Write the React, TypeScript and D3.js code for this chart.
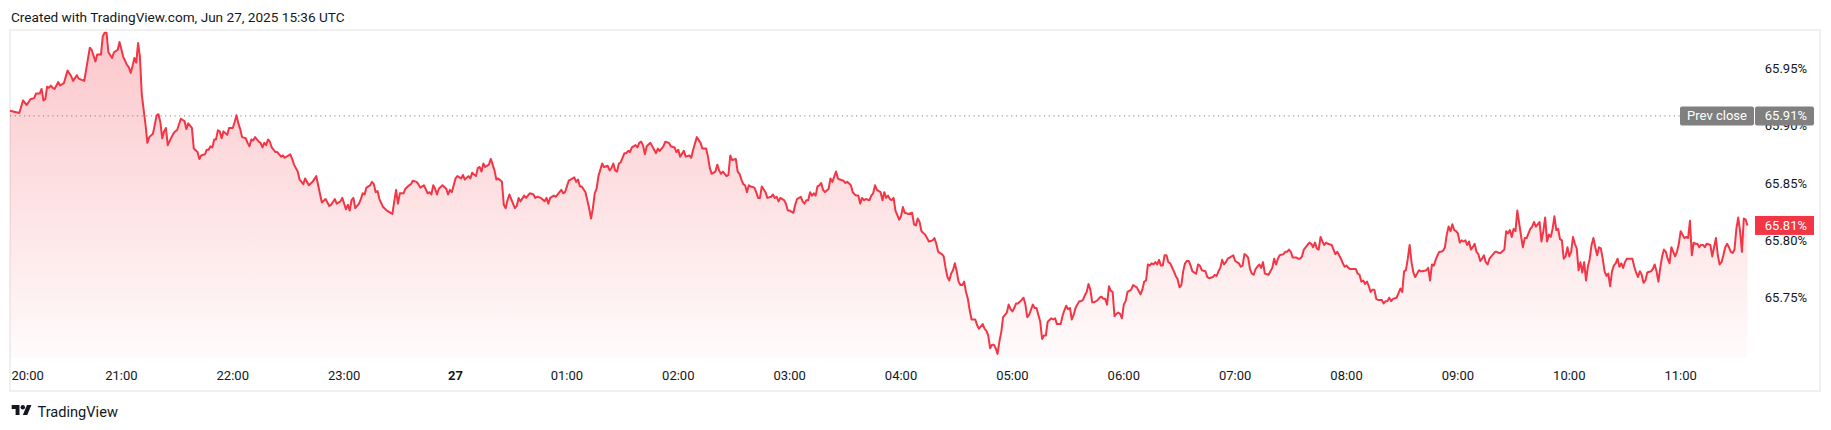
import * as d3 from "d3";

// wall-clock New York time, stored as UTC so labels don't depend on the browser zone
const sessionStart = Date.UTC(2025, 5, 26, 20, 0);
const sessionEnd = Date.UTC(2025, 5, 27, 11, 36);

// [minutes after 20:00, value %]
const eveningBars: [number, number][] = [
  [0, 65.913], [5, 65.911], [7, 65.922], [9, 65.918], [11, 65.923], [13, 65.924], [14, 65.928], [16, 65.928],
  [17, 65.932], [18, 65.922], [19, 65.923], [20, 65.934], [21, 65.933], [22, 65.935], [23, 65.933], [24, 65.932],
  [26, 65.938], [27, 65.935], [29, 65.937], [31, 65.948], [33, 65.943], [34, 65.939], [36, 65.944], [37, 65.941],
  [40, 65.939], [43, 65.968], [44, 65.966], [46, 65.956], [47, 65.962], [49, 65.962], [50, 65.978], [51, 65.981],
  [52, 65.981], [53, 65.964], [55, 65.959], [56, 65.964], [58, 65.966], [59, 65.973], [61, 65.96], [63, 65.953],
  [64, 65.951], [65, 65.946], [66, 65.952], [67, 65.959], [68, 65.955], [69, 65.972], [70, 65.96], [71, 65.927],
  [73, 65.901], [74, 65.885], [75, 65.89], [77, 65.893], [78, 65.901], [79, 65.909], [80, 65.91], [81, 65.903],
  [82, 65.889], [83, 65.895], [84, 65.898], [85, 65.883], [87, 65.89], [88, 65.893], [89, 65.895], [90, 65.896],
  [92, 65.906], [94, 65.904], [95, 65.897], [96, 65.902], [98, 65.898], [99, 65.88], [101, 65.877], [102, 65.871],
  [103, 65.874], [105, 65.875], [106, 65.879], [107, 65.879], [108, 65.882], [109, 65.881], [110, 65.888], [111, 65.888],
  [112, 65.896], [113, 65.895], [114, 65.889], [115, 65.895], [117, 65.892], [118, 65.898], [120, 65.898], [121, 65.903],
  [122, 65.909], [123, 65.902], [124, 65.897], [125, 65.89], [127, 65.889], [128, 65.885], [129, 65.882], [130, 65.888],
  [131, 65.887], [132, 65.89], [134, 65.886], [135, 65.885], [136, 65.881], [137, 65.885], [138, 65.883], [139, 65.888],
  [140, 65.886], [141, 65.881], [143, 65.877], [144, 65.877], [146, 65.873], [147, 65.874], [148, 65.872], [151, 65.875],
  [152, 65.871], [153, 65.866], [155, 65.86], [156, 65.853], [158, 65.849], [159, 65.854], [161, 65.848], [163, 65.851],
  [165, 65.856], [166, 65.848], [168, 65.833], [170, 65.836], [172, 65.83], [173, 65.831], [175, 65.836], [176, 65.832],
  [178, 65.834], [179, 65.837], [181, 65.827], [182, 65.831], [183, 65.826], [184, 65.835], [185, 65.837], [186, 65.828],
  [188, 65.832], [189, 65.836], [190, 65.841], [191, 65.84], [192, 65.846], [194, 65.848], [195, 65.851], [196, 65.849],
  [197, 65.842], [198, 65.843], [199, 65.836], [201, 65.829], [203, 65.826], [205, 65.824], [206, 65.823], [207, 65.834],
  [208, 65.844], [209, 65.832], [210, 65.841], [212, 65.841], [213, 65.845], [215, 65.848], [216, 65.849], [217, 65.852],
  [219, 65.851], [220, 65.849], [221, 65.846], [223, 65.848], [225, 65.841], [226, 65.842], [227, 65.84], [228, 65.848],
  [229, 65.845], [230, 65.84], [231, 65.845], [233, 65.848], [235, 65.845], [236, 65.84], [237, 65.844], [238, 65.842],
];

const nightBars: [number, number][] = [
  [240, 65.854], [241, 65.856], [243, 65.854], [244, 65.857], [245, 65.853], [247, 65.856], [248, 65.854], [249, 65.859],
  [251, 65.856], [252, 65.863], [253, 65.864], [254, 65.86], [255, 65.867], [256, 65.864], [258, 65.866], [259, 65.871],
  [261, 65.861], [262, 65.853], [263, 65.854], [265, 65.851], [266, 65.831], [267, 65.828], [268, 65.835], [269, 65.84],
  [270, 65.836], [272, 65.828], [273, 65.83], [274, 65.837], [275, 65.834], [277, 65.839], [278, 65.837], [280, 65.841],
  [282, 65.84], [283, 65.837], [284, 65.838], [286, 65.837], [288, 65.834], [289, 65.837], [290, 65.832], [291, 65.837],
  [293, 65.839], [294, 65.838], [296, 65.842], [297, 65.844], [298, 65.841], [299, 65.842], [301, 65.852], [302, 65.853],
  [304, 65.855], [305, 65.851], [306, 65.853], [307, 65.847], [308, 65.847], [310, 65.842], [312, 65.828], [313, 65.819],
  [314, 65.828], [315, 65.841], [316, 65.845], [317, 65.856], [319, 65.867], [320, 65.864], [322, 65.865], [323, 65.861],
  [324, 65.863], [325, 65.867], [326, 65.861], [327, 65.86], [328, 65.867], [329, 65.868], [331, 65.876], [332, 65.876],
  [333, 65.878], [334, 65.877], [335, 65.881], [337, 65.883], [338, 65.881], [339, 65.885], [340, 65.886], [341, 65.883],
  [342, 65.875], [343, 65.882], [345, 65.885], [347, 65.879], [348, 65.876], [349, 65.88], [350, 65.878], [352, 65.882],
  [353, 65.886], [355, 65.885], [356, 65.882], [358, 65.881], [359, 65.877], [360, 65.879], [361, 65.873], [363, 65.878],
  [364, 65.873], [366, 65.874], [367, 65.872], [368, 65.879], [370, 65.89], [372, 65.885], [373, 65.88], [375, 65.88],
  [376, 65.873], [377, 65.863], [378, 65.858], [380, 65.86], [381, 65.866], [382, 65.861], [383, 65.858], [384, 65.86],
  [385, 65.858], [386, 65.856], [387, 65.857], [388, 65.874], [389, 65.87], [391, 65.871], [392, 65.86], [393, 65.858],
  [394, 65.853], [395, 65.849], [396, 65.848], [397, 65.842], [398, 65.848], [399, 65.847], [401, 65.846], [402, 65.842],
  [403, 65.837], [404, 65.837], [405, 65.847], [407, 65.842], [408, 65.837], [410, 65.838], [411, 65.84], [412, 65.837],
  [413, 65.838], [414, 65.834], [415, 65.837], [417, 65.835], [418, 65.832], [419, 65.826], [420, 65.826], [422, 65.824],
  [423, 65.831], [424, 65.836], [426, 65.838], [427, 65.834], [428, 65.832], [429, 65.835], [430, 65.835], [431, 65.842],
  [432, 65.839], [433, 65.841], [434, 65.839], [435, 65.847], [436, 65.848], [437, 65.85], [438, 65.844], [439, 65.842],
  [441, 65.845], [442, 65.854], [443, 65.851], [445, 65.86], [446, 65.854], [447, 65.853], [449, 65.852], [450, 65.85],
  [451, 65.851], [453, 65.848], [454, 65.842], [455, 65.84], [456, 65.839], [457, 65.839], [458, 65.832], [459, 65.837],
  [460, 65.835], [461, 65.836], [463, 65.835], [464, 65.839], [465, 65.841], [466, 65.848], [467, 65.844], [468, 65.843],
  [469, 65.842], [470, 65.835], [471, 65.842], [472, 65.837], [473, 65.839], [474, 65.836], [475, 65.835], [476, 65.837],
  [477, 65.826], [479, 65.818],
];

const earlyBars: [number, number][] = [
  [480, 65.821], [481, 65.829], [482, 65.824], [484, 65.823], [486, 65.824], [487, 65.814], [488, 65.813], [489, 65.819],
  [490, 65.816], [491, 65.808], [493, 65.805], [494, 65.802], [495, 65.799], [497, 65.8], [498, 65.802], [499, 65.797],
  [500, 65.79], [502, 65.788], [503, 65.786], [504, 65.776], [505, 65.768], [506, 65.765], [507, 65.771], [508, 65.774],
  [509, 65.78], [510, 65.773], [511, 65.764], [512, 65.761], [513, 65.761], [514, 65.764], [515, 65.755], [516, 65.749],
  [517, 65.739], [518, 65.731], [519, 65.731], [520, 65.731], [521, 65.726], [522, 65.723], [523, 65.725], [524, 65.727],
  [525, 65.723], [526, 65.721], [527, 65.717], [528, 65.706], [529, 65.709], [530, 65.709], [531, 65.706], [532, 65.701],
  [533, 65.712], [534, 65.72], [535, 65.733], [536, 65.735], [537, 65.737], [538, 65.744], [539, 65.74], [540, 65.738],
  [541, 65.741], [542, 65.745], [543, 65.745], [545, 65.748], [546, 65.75], [547, 65.744], [548, 65.733], [549, 65.735],
  [551, 65.744], [552, 65.741], [553, 65.741], [554, 65.735], [555, 65.729], [556, 65.714], [557, 65.717], [558, 65.717],
  [559, 65.729], [561, 65.732], [562, 65.731], [563, 65.732], [564, 65.727], [566, 65.727], [567, 65.734], [568, 65.739],
  [569, 65.743], [570, 65.74], [571, 65.741], [572, 65.731], [573, 65.735], [574, 65.741], [576, 65.747], [577, 65.747],
  [578, 65.748], [579, 65.752], [580, 65.755], [581, 65.762], [582, 65.757], [583, 65.746], [584, 65.746], [586, 65.748],
  [587, 65.75], [588, 65.751], [589, 65.749], [590, 65.749], [591, 65.744], [592, 65.76], [593, 65.756], [594, 65.755],
  [595, 65.734], [596, 65.736], [597, 65.737], [598, 65.736], [599, 65.732], [600, 65.744], [601, 65.747], [602, 65.755],
  [603, 65.756], [604, 65.757], [605, 65.761], [606, 65.76], [607, 65.759], [609, 65.753], [610, 65.757], [611, 65.764],
  [612, 65.765], [613, 65.779], [614, 65.778], [615, 65.78], [616, 65.779], [617, 65.781], [618, 65.779], [619, 65.783],
  [620, 65.778], [621, 65.778], [622, 65.787], [623, 65.787], [624, 65.781], [625, 65.78], [627, 65.773], [628, 65.769],
  [629, 65.766], [630, 65.759], [631, 65.761], [632, 65.773], [633, 65.78], [634, 65.782], [635, 65.782], [636, 65.778],
  [637, 65.773], [639, 65.771], [640, 65.779], [641, 65.778], [642, 65.774], [644, 65.773], [645, 65.768], [646, 65.767],
  [648, 65.768], [649, 65.77], [650, 65.769], [651, 65.773], [652, 65.776], [653, 65.783], [654, 65.779], [655, 65.781],
  [656, 65.784], [657, 65.785], [659, 65.787], [660, 65.782], [661, 65.781], [662, 65.78], [663, 65.777], [664, 65.778],
  [665, 65.788], [666, 65.787], [667, 65.785], [668, 65.775], [669, 65.771], [670, 65.77], [671, 65.775], [672, 65.777],
  [673, 65.779], [674, 65.776], [675, 65.781], [676, 65.771], [678, 65.77], [679, 65.773], [680, 65.776], [681, 65.784],
  [682, 65.779], [683, 65.784], [684, 65.787], [686, 65.788], [687, 65.79], [688, 65.79], [689, 65.792], [690, 65.79],
  [691, 65.785], [693, 65.785], [694, 65.784], [695, 65.784], [696, 65.786], [697, 65.792], [699, 65.796], [700, 65.798],
  [701, 65.797], [702, 65.794], [703, 65.798], [704, 65.793], [705, 65.792], [706, 65.803], [707, 65.799], [708, 65.796],
  [709, 65.798], [710, 65.797], [712, 65.796], [713, 65.792], [714, 65.788], [715, 65.79], [717, 65.784], [718, 65.78],
  [719, 65.777],
];

const morningBars: [number, number][] = [
  [720, 65.778], [721, 65.776], [722, 65.775], [723, 65.775], [725, 65.775], [726, 65.771], [727, 65.77], [728, 65.764],
  [729, 65.765], [730, 65.762], [731, 65.764], [732, 65.76], [733, 65.755], [734, 65.757], [735, 65.757], [736, 65.749],
  [737, 65.748], [739, 65.748], [740, 65.745], [741, 65.747], [742, 65.747], [743, 65.75], [744, 65.747], [745, 65.749],
  [747, 65.75], [748, 65.754], [749, 65.758], [750, 65.755], [751, 65.773], [752, 65.774], [753, 65.784], [754, 65.796],
  [755, 65.781], [756, 65.772], [757, 65.768], [758, 65.771], [759, 65.774], [760, 65.773], [761, 65.773], [763, 65.774],
  [764, 65.776], [765, 65.765], [766, 65.779], [767, 65.778], [768, 65.783], [769, 65.787], [770, 65.79], [771, 65.79],
  [772, 65.791], [773, 65.794], [774, 65.805], [775, 65.812], [776, 65.808], [777, 65.814], [778, 65.809], [779, 65.808],
  [780, 65.806], [781, 65.798], [782, 65.8], [783, 65.799], [784, 65.8], [785, 65.796], [786, 65.799], [787, 65.792],
  [788, 65.794], [789, 65.797], [790, 65.79], [791, 65.788], [792, 65.782], [793, 65.784], [794, 65.787], [795, 65.781],
  [796, 65.779], [797, 65.784], [799, 65.788], [800, 65.79], [801, 65.79], [802, 65.789], [803, 65.789], [805, 65.792],
  [806, 65.808], [807, 65.806], [808, 65.809], [809, 65.803], [810, 65.81], [811, 65.808], [812, 65.826], [813, 65.815],
  [814, 65.804], [815, 65.794], [816, 65.802], [817, 65.802], [818, 65.806], [819, 65.81], [820, 65.812], [821, 65.816],
  [822, 65.812], [823, 65.814], [824, 65.816], [825, 65.799], [826, 65.808], [827, 65.82], [828, 65.799], [829, 65.805],
  [830, 65.803], [831, 65.81], [832, 65.821], [833, 65.809], [834, 65.81], [835, 65.801], [836, 65.8], [837, 65.784],
  [838, 65.786], [839, 65.794], [840, 65.786], [841, 65.79], [842, 65.803], [843, 65.797], [844, 65.793], [845, 65.774],
  [846, 65.781], [847, 65.772], [848, 65.781], [849, 65.765], [850, 65.777], [851, 65.784], [852, 65.796], [853, 65.802],
  [854, 65.794], [855, 65.787], [856, 65.794], [857, 65.793], [858, 65.784], [859, 65.773], [860, 65.769], [861, 65.771],
  [862, 65.76], [863, 65.773], [864, 65.778], [865, 65.78], [866, 65.784], [867, 65.777], [868, 65.78], [869, 65.776],
  [870, 65.781], [871, 65.784], [872, 65.784], [874, 65.784], [875, 65.777], [876, 65.772], [877, 65.768], [878, 65.773],
  [879, 65.77], [880, 65.763], [881, 65.765], [882, 65.772], [884, 65.773], [885, 65.775], [886, 65.779], [887, 65.773],
  [888, 65.764], [889, 65.776], [890, 65.786], [891, 65.792], [892, 65.79], [893, 65.784], [894, 65.78], [895, 65.794],
  [896, 65.79], [897, 65.786], [898, 65.79], [899, 65.797], [900, 65.808], [901, 65.805], [902, 65.802], [903, 65.803],
  [904, 65.802], [905, 65.817], [906, 65.787], [907, 65.798], [908, 65.797], [909, 65.797], [910, 65.794], [911, 65.796],
  [912, 65.796], [913, 65.794], [914, 65.797], [916, 65.796], [917, 65.786], [918, 65.794], [919, 65.802], [920, 65.787],
  [921, 65.779], [922, 65.781], [923, 65.787], [924, 65.794], [925, 65.797], [926, 65.794], [927, 65.79], [928, 65.789],
  [929, 65.792], [930, 65.81], [931, 65.82], [932, 65.808], [933, 65.79], [934, 65.819], [935, 65.818], [936, 65.813],
];

const priceTicks = [65.75, 65.8, 65.85, 65.9, 65.95];
const prevClose = 65.9085;
const prevCloseLabel = "65.91%";
const lastLabel = "65.81%";
const headerText = "Created with TradingView.com, Jun 27, 2025 15:36 UTC";

const W = 1831;
const H = 430;
const FONT = "Roboto, 'Liberation Sans', sans-serif";
const TEXT = "#131722";
const RED = "#F23645";
const GREY = "#808080";

type Bar = { date: Date; value: number };

const bars: Bar[] = [...eveningBars, ...nightBars, ...earlyBars, ...morningBars].map(([m, v]) => ({
  date: new Date(sessionStart + m * 60000),
  value: v,
}));

export default function App() {
  const paneLeft = 10;
  const paneBottom = 358;
  const axisX = 1807;

  const x = d3.scaleUtc().domain([new Date(sessionStart), new Date(sessionEnd)]).range([paneLeft, 1747.5]);
  const y = d3.scaleLinear().domain([65.75, 65.95]).range([297.7, 68.3]);

  const line = d3
    .line<Bar>()
    .x((d) => x(d.date))
    .y((d) => y(d.value));
  const area = d3
    .area<Bar>()
    .x((d) => x(d.date))
    .y0(paneBottom)
    .y1((d) => y(d.value));

  const topY = y(d3.max(bars, (d) => d.value) || 65.95);
  const hourTicks = x.ticks(d3.utcHour.every(1)!);
  const fmt = d3.utcFormat("%H:%M");
  const last = bars[bars.length - 1];
  const prevY = y(prevClose);
  const lastY = y(last.value);

  return (
    <svg
      width={W}
      height={H}
      style={{ position: "absolute", left: 0, top: 0, background: "#fff", fontFamily: FONT }}
    >
      <defs>
        <linearGradient id="fade" gradientUnits="userSpaceOnUse" x1={0} x2={0} y1={topY} y2={paneBottom}>
          <stop offset="0%" stopColor={RED} stopOpacity={0.28} />
          <stop offset="100%" stopColor={RED} stopOpacity={0.02} />
        </linearGradient>
      </defs>

      <text x={11} y={21.5} fontSize={13.6} fill={TEXT}>
        {headerText}
      </text>

      <rect x={10} y={30} width={1810} height={361} fill="none" stroke="#F0F0F0" strokeWidth={2} />

      <path d={area(bars) || ""} fill="url(#fade)" />
      <line
        x1={paneLeft}
        x2={1680}
        y1={prevY}
        y2={prevY}
        stroke={GREY}
        strokeWidth={1}
        strokeDasharray="1.2 3.5"
      />
      <path d={line(bars) || ""} fill="none" stroke={RED} strokeWidth={2} strokeLinejoin="round" />

      {/* 65.90% sits partly under the prev-close badge, as in the original */}
      {priceTicks.map((t) => (
        <text key={t} x={axisX} y={y(t)} dy="0.35em" textAnchor="end" fontSize={13} fill={TEXT}>
          {t.toFixed(2)}%
        </text>
      ))}

      <g>
        <rect x={1680} y={prevY - 9.5} width={74} height={19} rx={2} fill={GREY} />
        <rect x={1755} y={prevY - 9.5} width={59} height={19} rx={2} fill={GREY} />
        <text x={1717} y={prevY} dy="0.35em" textAnchor="middle" fontSize={13} fill="#fff">
          Prev close
        </text>
        <text x={axisX} y={prevY} dy="0.35em" textAnchor="end" fontSize={13} fill="#fff">
          {prevCloseLabel}
        </text>
      </g>

      <g>
        <rect x={1755} y={lastY - 9.5} width={59} height={19} fill={RED} />
        <text x={axisX} y={lastY} dy="0.35em" textAnchor="end" fontSize={13} fill="#fff">
          {lastLabel}
        </text>
      </g>

      {hourTicks.map((t, i) => {
        const midnight = t.getUTCHours() === 0;
        const label = midnight ? String(t.getUTCDate()) : fmt(t);
        const first = i === 0 && x(t) < paneLeft + 18;
        return (
          <text
            key={t.getTime()}
            x={first ? 11.5 : x(t)}
            y={375}
            dy="0.35em"
            textAnchor={first ? "start" : "middle"}
            fontSize={13}
            fontWeight={midnight ? 700 : 400}
            fill={TEXT}
          >
            {label}
          </text>
        );
      })}

      <g transform="translate(11.7,402.8) scale(0.556)" fill={TEXT}>
        <path d="M14 22H7V11H0V4h14v18zM28 22h-8l7.5-18h8L28 22z" />
        <circle cx={20} cy={8} r={4} />
      </g>
      <text x={37.5} y={416.5} fontSize={14.6} fill={TEXT}>
        TradingView
      </text>
    </svg>
  );
}
